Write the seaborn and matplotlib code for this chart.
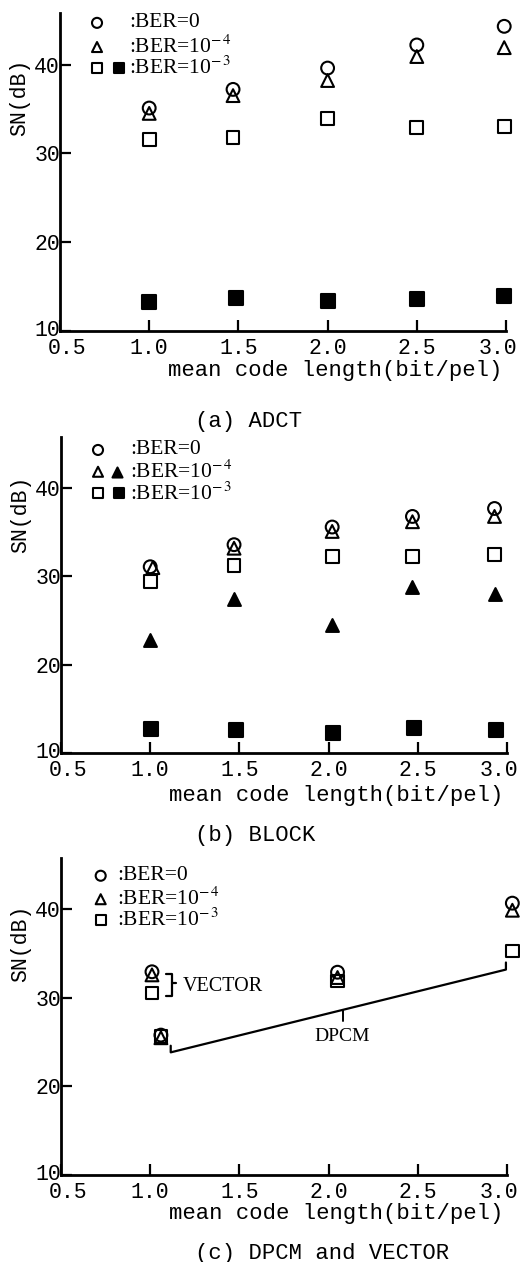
import matplotlib
matplotlib.use("Agg")
import matplotlib.pyplot as plt
import matplotlib.transforms as mtransforms
import seaborn as sns

# ---------------- data ----------------
x_ticks = [0.5, 1.0, 1.5, 2.0, 2.5, 3.0]
x_tick_labels = ["0.5", "1.0", "1.5", "2.0", "2.5", "3.0"]
y_ticks = [10, 20, 30, 40]
y_tick_labels = ["10", "20", "30", "40"]

# (a) ADCT
a_x = [1.0, 1.47, 2.0, 2.5, 2.99]
a_ber0 = [35.1, 37.2, 39.6, 42.2, 44.3]
a_ber4 = [34.5, 36.5, 38.2, 40.9, 41.9]
a_ber3_open = [31.6, 31.8, 33.9, 32.9, 33.0]
a_x_filled = [1.0, 1.485, 2.0, 2.5, 2.99]
a_ber3_filled = [13.3, 13.7, 13.4, 13.6, 13.9]

# (b) BLOCK
b_x = [1.0, 1.47, 2.02, 2.47, 2.93]
b_x_tri = [1.015, 1.47, 2.02, 2.47, 2.93]
b_ber0 = [31.1, 33.6, 35.6, 36.8, 37.7]
b_ber4_open = [31.0, 33.2, 35.1, 36.2, 36.8]
b_ber3_open = [29.4, 31.2, 32.3, 32.3, 32.5]
b_ber4_filled = [22.8, 27.5, 24.5, 28.8, 28.0]
b_x_filled = [1.005, 1.48, 2.025, 2.48, 2.94]
b_ber3_filled = [12.7, 12.6, 12.3, 12.8, 12.6]

# (c) DPCM and VECTOR
vec_x = [1.01]
vec_ber0 = [32.95]
vec_ber4 = [32.6]
vec_ber3 = [30.55]
dpcm_x = [1.06, 2.05, 3.03]
dpcm_ber0 = [25.8, 32.9, 40.7]
dpcm_ber4 = [25.5, 32.3, 39.9]
dpcm_ber3 = [25.6, 31.9, 35.3]

# annotation geometry (panel c)
dpcm_line_x = [1.115, 1.115, 2.994, 2.994]
dpcm_line_y = [24.6, 23.85, 33.2, 34.0]
dpcm_tick_x = [2.083, 2.083]
dpcm_tick_y = [28.67, 27.35]
vec_brace_x = [1.087, 1.12, 1.12, 1.087]
vec_brace_y = [32.65, 32.65, 30.27, 30.27]
vec_mid_x = [1.12, 1.146]
vec_mid_y = [31.63, 31.63]

captions = ["(a) ADCT", "(b) BLOCK", "(c) DPCM and VECTOR"]
xlabel = "mean code length(bit/pel)"
ylabel = "SN(dB)"

# ---------------- style ----------------
sns.set_theme(style="white")
plt.rcParams["font.family"] = ["Liberation Mono", "DejaVu Sans"]
plt.rcParams["mathtext.fontset"] = "stix"
plt.rcParams["text.color"] = "black"
SERIF = ["Liberation Serif", "DejaVu Serif"]

fig = plt.figure(figsize=(5.2, 12.62), dpi=100)
W, H = 520.0, 1262.0


def make_ax(left, bottom_px, top_px, right=506):
    return fig.add_axes([left / W, 1 - bottom_px / H, (right - left) / W,
                         (bottom_px - top_px) / H])


ax_a = make_ax(60, 331, 13)
ax_b = make_ax(61, 753, 437, 507)
ax_c = make_ax(61, 1175, 858, 507)

S = 85
LW = 1.5


def pts(ax, x, y, marker, filled, s=S):
    sns.scatterplot(x=x, y=y, marker=marker, s=s, color="black",
                    facecolor="black" if filled else "none",
                    edgecolor="black", linewidth=LW, ax=ax,
                    clip_on=False, zorder=3, legend=False)


def leg_marker(ax, xf, yf, marker, filled):
    ax.scatter([xf], [yf], marker=marker, s=52, transform=ax.transAxes,
               facecolor="black" if filled else "none", edgecolor="black",
               linewidth=1.5, clip_on=False, zorder=4)


def style_ax(ax, ylab_y, xlab_y):
    ax.set_xlim(0.5, 3.0)
    ax.set_ylim(10, 45.8)
    ax.set_xticks(x_ticks)
    ax.set_xticklabels(x_tick_labels)
    ax.set_yticks(y_ticks)
    ax.set_yticklabels(y_tick_labels)
    sns.despine(ax=ax)
    for sp in ["left", "bottom"]:
        ax.spines[sp].set_linewidth(2.0)
        ax.spines[sp].set_color("black")
    ax.tick_params(axis="both", direction="in", length=8, width=1.6,
                   colors="black", labelsize=15.5, bottom=True, left=True)
    ax.tick_params(axis="x", pad=5)
    ax.tick_params(axis="y", pad=0)
    ax.set_xlabel("")
    ax.set_ylabel("")
    ax.text(-0.0897, ylab_y, ylabel, rotation=90, ha="center", va="center",
            fontsize=15.5, transform=ax.transAxes)
    ax.text(0.991, xlab_y, xlabel, ha="right", va="center", fontsize=16,
            transform=ax.transAxes)
    labs = ax.get_xticklabels()
    labs[0].set_transform(labs[0].get_transform() +
                          mtransforms.ScaledTranslation(0.07, 0, fig.dpi_scale_trans))
    labs[-1].set_transform(labs[-1].get_transform() +
                           mtransforms.ScaledTranslation(-0.08, 0, fig.dpi_scale_trans))
    ylabs = ax.get_yticklabels()
    ylabs[0].set_transform(ylabs[0].get_transform() +
                           mtransforms.ScaledTranslation(0, 0.03, fig.dpi_scale_trans))


# ---------------- panel a ----------------
pts(ax_a, a_x, a_ber0, "o", False)
pts(ax_a, a_x, a_ber4, "^", False)
pts(ax_a, a_x, a_ber3_open, "s", False)
pts(ax_a, a_x_filled, a_ber3_filled, "s", True, s=95)
style_ax(ax_a, 0.736, -0.123)
ly = [0.969, 0.893, 0.827]
leg_marker(ax_a, 0.083, ly[0], "o", False)
leg_marker(ax_a, 0.083, ly[1], "^", False)
leg_marker(ax_a, 0.083, ly[2], "s", False)
leg_marker(ax_a, 0.132, ly[2], "s", True)
for yy, t in zip(ly, [":BER=0", ":BER=10$^{-\\,4}$", ":BER=10$^{-\\,3}$"]):
    ax_a.text(0.155, yy, t, transform=ax_a.transAxes, ha="left", va="center",
              fontsize=15.5, family=SERIF)

# ---------------- panel b ----------------
pts(ax_b, b_x, b_ber0, "o", False)
pts(ax_b, b_x_tri, b_ber4_open, "^", False)
pts(ax_b, b_x, b_ber3_open, "s", False)
pts(ax_b, b_x, b_ber4_filled, "^", True)
pts(ax_b, b_x_filled, b_ber3_filled, "s", True, s=95)
style_ax(ax_b, 0.756, -0.133)
ly = [0.959, 0.890, 0.822]
leg_marker(ax_b, 0.083, ly[0], "o", False)
leg_marker(ax_b, 0.083, ly[1], "^", False)
leg_marker(ax_b, 0.126, ly[1], "^", True)
leg_marker(ax_b, 0.083, ly[2], "s", False)
leg_marker(ax_b, 0.130, ly[2], "s", True)
for yy, t in zip(ly, [":BER=0", ":BER=10$^{-\\,4}$", ":BER=10$^{-\\,3}$"]):
    ax_b.text(0.155, yy, t, transform=ax_b.transAxes, ha="left", va="center",
              fontsize=15.5, family=SERIF)

# ---------------- panel c ----------------
pts(ax_c, vec_x, vec_ber0, "o", False)
pts(ax_c, vec_x, vec_ber4, "^", False)
pts(ax_c, vec_x, vec_ber3, "s", False)
pts(ax_c, dpcm_x, dpcm_ber0, "o", False)
pts(ax_c, dpcm_x, dpcm_ber4, "^", False)
pts(ax_c, dpcm_x, dpcm_ber3, "s", False)
ax_c.plot(dpcm_line_x, dpcm_line_y, color="black", lw=1.6, clip_on=False)
ax_c.plot(dpcm_tick_x, dpcm_tick_y, color="black", lw=1.4)
ax_c.plot(vec_brace_x, vec_brace_y, color="black", lw=1.6)
ax_c.plot(vec_mid_x, vec_mid_y, color="black", lw=1.6)
ax_c.text(2.078, 25.66, "DPCM", ha="center", va="center", fontsize=14,
          family=SERIF)
ax_c.text(1.18, 31.3, "VECTOR", ha="left", va="center", fontsize=14.5,
          family=SERIF)
style_ax(ax_c, 0.732, -0.12)
ly = [0.944, 0.870, 0.804]
leg_marker(ax_c, 0.089, ly[0], "o", False)
leg_marker(ax_c, 0.089, ly[1], "^", False)
leg_marker(ax_c, 0.089, ly[2], "s", False)
for yy, t in zip(ly, [":BER=0", ":BER=10$^{-\\,4}$", ":BER=10$^{-\\,3}$"]):
    ax_c.text(0.126, yy, t, transform=ax_c.transAxes, ha="left", va="center",
              fontsize=15.5, family=SERIF)

# ---------------- captions ----------------
for cy, cap in zip([421, 836, 1253], captions):
    fig.text(195 / W, 1 - cy / H, cap, ha="left", va="center", fontsize=16)

fig.savefig("out.png", dpi=100)
